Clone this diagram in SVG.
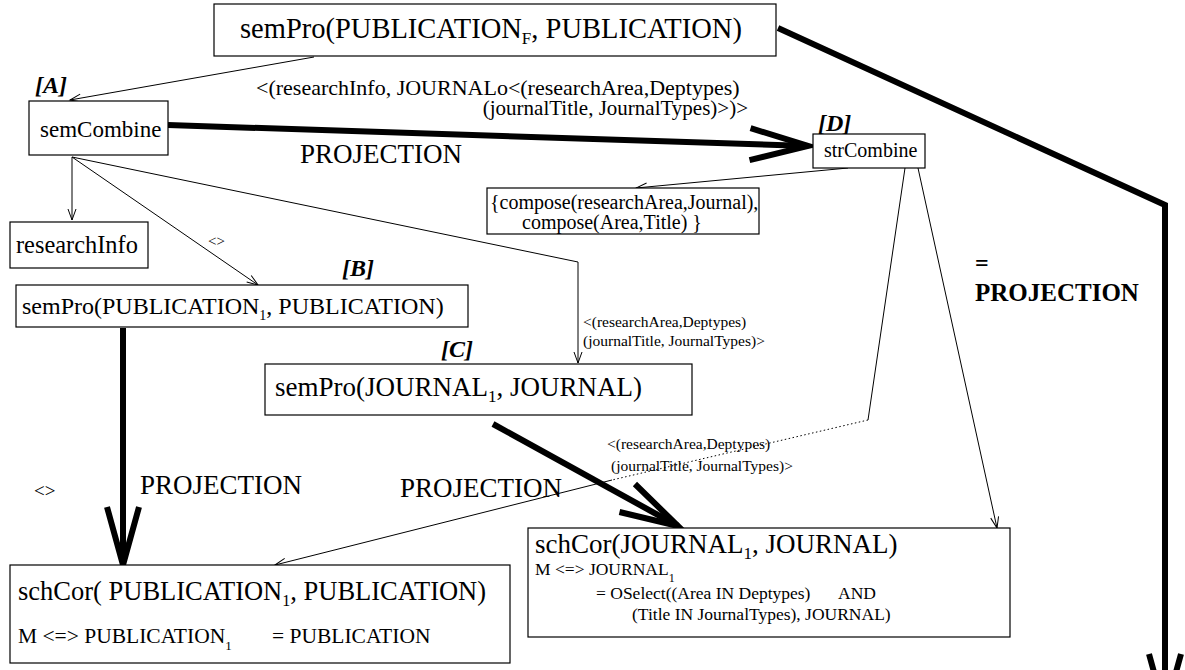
<svg xmlns="http://www.w3.org/2000/svg" width="1185" height="670" viewBox="0 0 1185 670">
<style>
.box{fill:#fff;stroke:#000;stroke-width:1.2}
.t{font-family:"Liberation Serif","Times New Roman",serif;fill:#000}
.tag{font-family:"Liberation Serif","Times New Roman",serif;font-weight:bold;font-style:italic;font-size:24px}
.thin{fill:none;stroke:#000;stroke-width:1}
.thick{fill:none;stroke:#000;stroke-width:6}
</style>
<defs>
<marker id="a" markerUnits="userSpaceOnUse" markerWidth="14" markerHeight="12" viewBox="-13 -6 14 12" refX="0" refY="0" orient="auto" overflow="visible">
<path d="M-11,-4 L0,0 L-11,4" fill="none" stroke="#000" stroke-width="1"/>
</marker>
<marker id="A" markerUnits="userSpaceOnUse" markerWidth="80" markerHeight="50" viewBox="-70 -25 80 50" refX="0" refY="0" orient="auto" overflow="visible">
<path d="M-58,-16 L0,0 L-58,16" fill="none" stroke="#000" stroke-width="6"/>
</marker>
</defs>
<g id="connectors">
<line class="thin" x1="314" y1="57" x2="70" y2="100" marker-end="url(#a)"/>
<line class="thick" x1="168" y1="125" x2="808" y2="146" marker-end="url(#A)"/>
<polyline class="thick" points="778,28 1165,205 1165,712" marker-end="url(#A)"/>
<line class="thin" x1="848" y1="168" x2="636" y2="188" marker-end="url(#a)"/>
<line class="thin" x1="72" y1="157" x2="72" y2="220" marker-end="url(#a)"/>
<line class="thin" x1="72" y1="157" x2="258" y2="285" marker-end="url(#a)"/>
<polyline class="thin" points="72,157 578,262 578,363" marker-end="url(#a)"/>
<line class="thick" x1="123" y1="328" x2="123" y2="565" marker-end="url(#A)"/>
<line class="thick" x1="493" y1="424" x2="678" y2="526" marker-end="url(#A)"/>
<polyline class="thin" points="905,168 868,420"/>
<polyline class="thin" points="868,420 612,480" stroke-dasharray="1.5,2.5"/>
<line class="thin" x1="612" y1="480" x2="275" y2="565" marker-end="url(#a)"/>
<line class="thin" x1="918" y1="168" x2="997" y2="528" marker-end="url(#a)"/>
<text class="t" x="256" y="95" font-size="22">&lt;(researchInfo, JOURNALo&lt;(researchArea,Deptypes)</text>
<text class="t" x="748" y="115" font-size="21" text-anchor="end">(journalTitle, JournalTypes)&gt;)&gt;</text>
<text class="t" x="300" y="163" font-size="27">PROJECTION</text>
<text class="t" x="208" y="246" font-size="15">&lt;&gt;</text>
<text class="t" x="583" y="327" font-size="15.5">&lt;(researchArea,Deptypes)</text>
<text class="t" x="583" y="346" font-size="15.5">(journalTitle, JournalTypes)&gt;</text>
<text class="t" x="975" y="271" font-size="24" font-weight="bold">=</text>
<text class="t" x="975" y="301" font-size="25" font-weight="bold">PROJECTION</text>
<text class="t" x="34" y="497" font-size="19">&lt;&gt;</text>
<text class="t" x="140" y="494" font-size="27">PROJECTION</text>
<text class="t" x="400" y="497" font-size="27">PROJECTION</text>
<text class="t" x="607" y="449" font-size="15.5">&lt;(researchArea,Deptypes)</text>
<text class="t" x="611" y="471" font-size="15.5">(journalTitle, JournalTypes)&gt;</text>
</g>
<g id="n_top">
<rect class="box" x="214" y="4" width="562" height="52"/>
<text class="t" x="240" y="38" font-size="28.5">semPro(PUBLICATION<tspan font-size="17" dy="6">F</tspan><tspan dy="-6">, PUBLICATION)</tspan></text>
</g>
<g id="n_semCombine">
<text class="tag" x="35" y="93">[A]</text>
<rect class="box" x="29" y="101" width="139" height="54"/>
<text class="t" x="40" y="137" font-size="23">semCombine</text>
</g>
<g id="n_strCombine">
<text class="tag" x="818" y="131">[D]</text>
<rect class="box" x="813" y="134" width="112" height="34"/>
<text class="t" x="824" y="157" font-size="20">strCombine</text>
</g>
<g id="n_compose">
<rect class="box" x="487" y="188" width="272" height="46"/>
<text class="t" x="490" y="209" font-size="20">{compose(researchArea,Journal),</text>
<text class="t" x="522" y="229" font-size="20">compose(Area,Title) }</text>
</g>
<g id="n_researchInfo">
<rect class="box" x="10" y="222" width="138" height="46"/>
<text class="t" x="16" y="253" font-size="24.4">researchInfo</text>
</g>
<g id="n_B">
<text class="tag" x="342" y="276">[B]</text>
<rect class="box" x="16" y="285" width="452" height="42"/>
<text class="t" x="22" y="314" font-size="24">semPro(PUBLICATION<tspan font-size="14" dy="6">1</tspan><tspan dy="-6">, PUBLICATION)</tspan></text>
</g>
<g id="n_C">
<text class="tag" x="441" y="357">[C]</text>
<rect class="box" x="265" y="364" width="427" height="51"/>
<text class="t" x="275" y="396" font-size="27">semPro(JOURNAL<tspan font-size="17" dy="6">1</tspan><tspan dy="-6">, JOURNAL)</tspan></text>
</g>
<g id="n_schCorJ">
<rect class="box" x="528" y="528" width="482" height="109"/>
<text class="t" x="535" y="553" font-size="27">schCor(JOURNAL<tspan font-size="17" dy="6">1</tspan><tspan dy="-6">, JOURNAL)</tspan></text>
<text class="t" x="535" y="575" font-size="17.5">M &lt;=&gt; JOURNAL<tspan font-size="12" dy="7">1</tspan></text>
<text class="t" x="596" y="599" font-size="17.5">= OSelect((Area IN Deptypes)<tspan x="838">AND</tspan></text>
<text class="t" x="632" y="620" font-size="17.5">(Title IN JournalTypes), JOURNAL)</text>
</g>
<g id="n_schCorP">
<rect class="box" x="10" y="565" width="500" height="98"/>
<text class="t" x="18" y="600" font-size="26.5">schCor( PUBLICATION<tspan font-size="16" dy="6">1</tspan><tspan dy="-6">, PUBLICATION)</tspan></text>
<text class="t" x="18" y="643" font-size="21.5">M &lt;=&gt; PUBLICATION<tspan font-size="13" dy="7">1</tspan><tspan x="272" dy="-7">= PUBLICATION</tspan></text>
</g>
</svg>
